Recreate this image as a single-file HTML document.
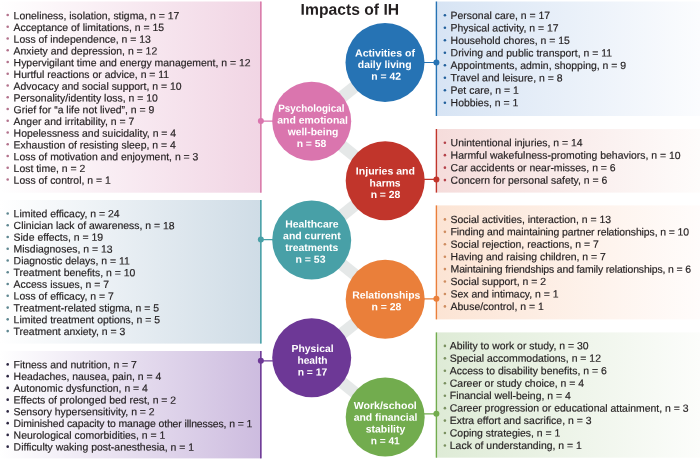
<!DOCTYPE html><html><head><meta charset="utf-8"><style>html,body{margin:0;padding:0;background:#fff}svg{display:block;transform:translateZ(0);will-change:transform}text{font-family:"Liberation Sans",sans-serif;text-rendering:geometricPrecision}</style></head><body>
<svg width="700" height="461" viewBox="0 0 700 461">
<defs>
<linearGradient id="g_pink" x1="0" y1="0" x2="1" y2="0"><stop offset="0" stop-color="#ffffff"/><stop offset="1" stop-color="#f1d5e4"/></linearGradient>
<linearGradient id="g_teal" x1="0" y1="0" x2="1" y2="0"><stop offset="0" stop-color="#ffffff"/><stop offset="1" stop-color="#cfdce6"/></linearGradient>
<linearGradient id="g_purple" x1="0" y1="0" x2="1" y2="0"><stop offset="0" stop-color="#ffffff"/><stop offset="1" stop-color="#cdbcdf"/></linearGradient>
<linearGradient id="g_blue" x1="0" y1="0" x2="1" y2="0"><stop offset="0" stop-color="#d7e4f4"/><stop offset="1" stop-color="#fbfcfe"/></linearGradient>
<linearGradient id="g_red" x1="0" y1="0" x2="1" y2="0"><stop offset="0" stop-color="#f5dcdb"/><stop offset="1" stop-color="#fefcfb"/></linearGradient>
<linearGradient id="g_orange" x1="0" y1="0" x2="1" y2="0"><stop offset="0" stop-color="#fce4d4"/><stop offset="1" stop-color="#fffcfb"/></linearGradient>
<linearGradient id="g_green" x1="0" y1="0" x2="1" y2="0"><stop offset="0" stop-color="#deebd6"/><stop offset="1" stop-color="#fcfdfb"/></linearGradient>
</defs>
<rect width="700" height="461" fill="#fff"/>
<rect x="0" y="1.5" width="260.8" height="191.20" fill="url(#g_pink)"/>
<rect x="260.05" y="1.5" width="1.6" height="191.20" fill="#d97aa9"/>
<circle cx="7.7" cy="14.95" r="1.3" fill="#b3728c"/>
<text transform="rotate(0.03 13.6 19.15)" x="13.6" y="19.15" font-size="10.45" fill="#231f20" stroke="#231f20" stroke-width="0.18">Loneliness, isolation, stigma, n = 17</text>
<circle cx="7.7" cy="26.70" r="1.3" fill="#b3728c"/>
<text transform="rotate(0.03 13.6 30.90)" x="13.6" y="30.90" font-size="10.45" fill="#231f20" stroke="#231f20" stroke-width="0.18">Acceptance of limitations, n = 15</text>
<circle cx="7.7" cy="38.45" r="1.3" fill="#b3728c"/>
<text transform="rotate(0.03 13.6 42.65)" x="13.6" y="42.65" font-size="10.45" fill="#231f20" stroke="#231f20" stroke-width="0.18">Loss of independence, n = 13</text>
<circle cx="7.7" cy="50.20" r="1.3" fill="#b3728c"/>
<text transform="rotate(0.03 13.6 54.40)" x="13.6" y="54.40" font-size="10.45" fill="#231f20" stroke="#231f20" stroke-width="0.18">Anxiety and depression, n = 12</text>
<circle cx="7.7" cy="61.95" r="1.3" fill="#b3728c"/>
<text transform="rotate(0.03 13.6 66.15)" x="13.6" y="66.15" font-size="10.45" fill="#231f20" stroke="#231f20" stroke-width="0.18">Hypervigilant time and energy management, n = 12</text>
<circle cx="7.7" cy="73.70" r="1.3" fill="#b3728c"/>
<text transform="rotate(0.03 13.6 77.90)" x="13.6" y="77.90" font-size="10.45" fill="#231f20" stroke="#231f20" stroke-width="0.18">Hurtful reactions or advice, n = 11</text>
<circle cx="7.7" cy="85.45" r="1.3" fill="#b3728c"/>
<text transform="rotate(0.03 13.6 89.65)" x="13.6" y="89.65" font-size="10.45" fill="#231f20" stroke="#231f20" stroke-width="0.18">Advocacy and social support, n = 10</text>
<circle cx="7.7" cy="97.20" r="1.3" fill="#b3728c"/>
<text transform="rotate(0.03 13.6 101.40)" x="13.6" y="101.40" font-size="10.45" fill="#231f20" stroke="#231f20" stroke-width="0.18">Personality/identity loss, n = 10</text>
<circle cx="7.7" cy="108.95" r="1.3" fill="#b3728c"/>
<text transform="rotate(0.03 13.6 113.15)" x="13.6" y="113.15" font-size="10.45" fill="#231f20" stroke="#231f20" stroke-width="0.18">Grief for “a life not lived”, n = 9</text>
<circle cx="7.7" cy="120.70" r="1.3" fill="#b3728c"/>
<text transform="rotate(0.03 13.6 124.90)" x="13.6" y="124.90" font-size="10.45" fill="#231f20" stroke="#231f20" stroke-width="0.18">Anger and irritability, n = 7</text>
<circle cx="7.7" cy="132.45" r="1.3" fill="#b3728c"/>
<text transform="rotate(0.03 13.6 136.65)" x="13.6" y="136.65" font-size="10.45" fill="#231f20" stroke="#231f20" stroke-width="0.18">Hopelessness and suicidality, n = 4</text>
<circle cx="7.7" cy="144.20" r="1.3" fill="#b3728c"/>
<text transform="rotate(0.03 13.6 148.40)" x="13.6" y="148.40" font-size="10.45" fill="#231f20" stroke="#231f20" stroke-width="0.18">Exhaustion of resisting sleep, n = 4</text>
<circle cx="7.7" cy="155.95" r="1.3" fill="#b3728c"/>
<text transform="rotate(0.03 13.6 160.15)" x="13.6" y="160.15" font-size="10.45" fill="#231f20" stroke="#231f20" stroke-width="0.18">Loss of motivation and enjoyment, n = 3</text>
<circle cx="7.7" cy="167.70" r="1.3" fill="#b3728c"/>
<text transform="rotate(0.03 13.6 171.90)" x="13.6" y="171.90" font-size="10.45" fill="#231f20" stroke="#231f20" stroke-width="0.18">Lost time, n = 2</text>
<circle cx="7.7" cy="179.45" r="1.3" fill="#b3728c"/>
<text transform="rotate(0.03 13.6 183.65)" x="13.6" y="183.65" font-size="10.45" fill="#231f20" stroke="#231f20" stroke-width="0.18">Loss of control, n = 1</text>
<rect x="0" y="200" width="260.8" height="143.60" fill="url(#g_teal)"/>
<rect x="260.05" y="200" width="1.6" height="143.60" fill="#48a0a7"/>
<circle cx="7.7" cy="213.50" r="1.3" fill="#5f8791"/>
<text transform="rotate(0.03 13.6 217.30)" x="13.6" y="217.30" font-size="10.45" fill="#231f20" stroke="#231f20" stroke-width="0.18">Limited efficacy, n = 24</text>
<circle cx="7.7" cy="225.26" r="1.3" fill="#5f8791"/>
<text transform="rotate(0.03 13.6 229.06)" x="13.6" y="229.06" font-size="10.45" fill="#231f20" stroke="#231f20" stroke-width="0.18">Clinician lack of awareness, n = 18</text>
<circle cx="7.7" cy="237.02" r="1.3" fill="#5f8791"/>
<text transform="rotate(0.03 13.6 240.82)" x="13.6" y="240.82" font-size="10.45" fill="#231f20" stroke="#231f20" stroke-width="0.18">Side effects, n = 19</text>
<circle cx="7.7" cy="248.78" r="1.3" fill="#5f8791"/>
<text transform="rotate(0.03 13.6 252.58)" x="13.6" y="252.58" font-size="10.45" fill="#231f20" stroke="#231f20" stroke-width="0.18">Misdiagnoses, n = 13</text>
<circle cx="7.7" cy="260.54" r="1.3" fill="#5f8791"/>
<text transform="rotate(0.03 13.6 264.34)" x="13.6" y="264.34" font-size="10.45" fill="#231f20" stroke="#231f20" stroke-width="0.18">Diagnostic delays, n = 11</text>
<circle cx="7.7" cy="272.30" r="1.3" fill="#5f8791"/>
<text transform="rotate(0.03 13.6 276.10)" x="13.6" y="276.10" font-size="10.45" fill="#231f20" stroke="#231f20" stroke-width="0.18">Treatment benefits, n = 10</text>
<circle cx="7.7" cy="284.06" r="1.3" fill="#5f8791"/>
<text transform="rotate(0.03 13.6 287.86)" x="13.6" y="287.86" font-size="10.45" fill="#231f20" stroke="#231f20" stroke-width="0.18">Access issues, n = 7</text>
<circle cx="7.7" cy="295.82" r="1.3" fill="#5f8791"/>
<text transform="rotate(0.03 13.6 299.62)" x="13.6" y="299.62" font-size="10.45" fill="#231f20" stroke="#231f20" stroke-width="0.18">Loss of efficacy, n = 7</text>
<circle cx="7.7" cy="307.58" r="1.3" fill="#5f8791"/>
<text transform="rotate(0.03 13.6 311.38)" x="13.6" y="311.38" font-size="10.45" fill="#231f20" stroke="#231f20" stroke-width="0.18">Treatment-related stigma, n = 5</text>
<circle cx="7.7" cy="319.34" r="1.3" fill="#5f8791"/>
<text transform="rotate(0.03 13.6 323.14)" x="13.6" y="323.14" font-size="10.45" fill="#231f20" stroke="#231f20" stroke-width="0.18">Limited treatment options, n = 5</text>
<circle cx="7.7" cy="331.10" r="1.3" fill="#5f8791"/>
<text transform="rotate(0.03 13.6 334.90)" x="13.6" y="334.90" font-size="10.45" fill="#231f20" stroke="#231f20" stroke-width="0.18">Treatment anxiety, n = 3</text>
<rect x="0" y="351" width="260.8" height="107.40" fill="url(#g_purple)"/>
<rect x="260.05" y="351" width="1.6" height="107.40" fill="#6d3896"/>
<circle cx="7.7" cy="364.40" r="1.3" fill="#2b2540"/>
<text transform="rotate(0.03 13.6 368.30)" x="13.6" y="368.30" font-size="10.45" fill="#231f20" stroke="#231f20" stroke-width="0.18">Fitness and nutrition, n = 7</text>
<circle cx="7.7" cy="376.15" r="1.3" fill="#2b2540"/>
<text transform="rotate(0.03 13.6 380.05)" x="13.6" y="380.05" font-size="10.45" fill="#231f20" stroke="#231f20" stroke-width="0.18">Headaches, nausea, pain, n = 4</text>
<circle cx="7.7" cy="387.90" r="1.3" fill="#2b2540"/>
<text transform="rotate(0.03 13.6 391.80)" x="13.6" y="391.80" font-size="10.45" fill="#231f20" stroke="#231f20" stroke-width="0.18">Autonomic dysfunction, n = 4</text>
<circle cx="7.7" cy="399.65" r="1.3" fill="#2b2540"/>
<text transform="rotate(0.03 13.6 403.55)" x="13.6" y="403.55" font-size="10.45" fill="#231f20" stroke="#231f20" stroke-width="0.18">Effects of prolonged bed rest, n = 2</text>
<circle cx="7.7" cy="411.40" r="1.3" fill="#2b2540"/>
<text transform="rotate(0.03 13.6 415.30)" x="13.6" y="415.30" font-size="10.45" fill="#231f20" stroke="#231f20" stroke-width="0.18">Sensory hypersensitivity, n = 2</text>
<circle cx="7.7" cy="423.15" r="1.3" fill="#2b2540"/>
<text transform="rotate(0.03 13.6 427.05)" x="13.6" y="427.05" font-size="10.45" fill="#231f20" stroke="#231f20" stroke-width="0.18" textLength="238.7">Diminished capacity to manage other illnesses, n = 1</text>
<circle cx="7.7" cy="434.90" r="1.3" fill="#2b2540"/>
<text transform="rotate(0.03 13.6 438.80)" x="13.6" y="438.80" font-size="10.45" fill="#231f20" stroke="#231f20" stroke-width="0.18">Neurological comorbidities, n = 1</text>
<circle cx="7.7" cy="446.65" r="1.3" fill="#2b2540"/>
<text transform="rotate(0.03 13.6 450.55)" x="13.6" y="450.55" font-size="10.45" fill="#231f20" stroke="#231f20" stroke-width="0.18">Difficulty waking post-anesthesia, n = 1</text>
<rect x="436.4" y="1.5" width="263.6" height="114.50" fill="url(#g_blue)"/>
<rect x="435.7" y="1.5" width="1.4" height="114.50" fill="#2673b4"/>
<circle cx="444.9" cy="15.25" r="1.3" fill="#22609c"/>
<text transform="rotate(0.03 450.6 18.90)" x="450.6" y="18.90" font-size="10.45" fill="#231f20" stroke="#231f20" stroke-width="0.18">Personal care, n = 17</text>
<circle cx="444.9" cy="27.74" r="1.3" fill="#22609c"/>
<text transform="rotate(0.03 450.6 31.39)" x="450.6" y="31.39" font-size="10.45" fill="#231f20" stroke="#231f20" stroke-width="0.18">Physical activity, n = 17</text>
<circle cx="444.9" cy="40.23" r="1.3" fill="#22609c"/>
<text transform="rotate(0.03 450.6 43.88)" x="450.6" y="43.88" font-size="10.45" fill="#231f20" stroke="#231f20" stroke-width="0.18">Household chores, n = 15</text>
<circle cx="444.9" cy="52.72" r="1.3" fill="#22609c"/>
<text transform="rotate(0.03 450.6 56.37)" x="450.6" y="56.37" font-size="10.45" fill="#231f20" stroke="#231f20" stroke-width="0.18">Driving and public transport, n = 11</text>
<circle cx="444.9" cy="65.21" r="1.3" fill="#22609c"/>
<text transform="rotate(0.03 450.6 68.86)" x="450.6" y="68.86" font-size="10.45" fill="#231f20" stroke="#231f20" stroke-width="0.18">Appointments, admin, shopping, n = 9</text>
<circle cx="444.9" cy="77.70" r="1.3" fill="#22609c"/>
<text transform="rotate(0.03 450.6 81.35)" x="450.6" y="81.35" font-size="10.45" fill="#231f20" stroke="#231f20" stroke-width="0.18">Travel and leisure, n = 8</text>
<circle cx="444.9" cy="90.19" r="1.3" fill="#22609c"/>
<text transform="rotate(0.03 450.6 93.84)" x="450.6" y="93.84" font-size="10.45" fill="#231f20" stroke="#231f20" stroke-width="0.18">Pet care, n = 1</text>
<circle cx="444.9" cy="102.68" r="1.3" fill="#22609c"/>
<text transform="rotate(0.03 450.6 106.33)" x="450.6" y="106.33" font-size="10.45" fill="#231f20" stroke="#231f20" stroke-width="0.18">Hobbies, n = 1</text>
<rect x="436.4" y="129" width="263.6" height="63.60" fill="url(#g_red)"/>
<rect x="435.7" y="129" width="1.4" height="63.60" fill="#c1352b"/>
<circle cx="444.9" cy="142.70" r="1.3" fill="#b5424a"/>
<text transform="rotate(0.03 450.6 146.30)" x="450.6" y="146.30" font-size="10.45" fill="#231f20" stroke="#231f20" stroke-width="0.18">Unintentional injuries, n = 14</text>
<circle cx="444.9" cy="155.17" r="1.3" fill="#b5424a"/>
<text transform="rotate(0.03 450.6 158.77)" x="450.6" y="158.77" font-size="10.45" fill="#231f20" stroke="#231f20" stroke-width="0.18">Harmful wakefulness-promoting behaviors, n = 10</text>
<circle cx="444.9" cy="167.64" r="1.3" fill="#b5424a"/>
<text transform="rotate(0.03 450.6 171.24)" x="450.6" y="171.24" font-size="10.45" fill="#231f20" stroke="#231f20" stroke-width="0.18">Car accidents or near-misses, n = 6</text>
<circle cx="444.9" cy="180.11" r="1.3" fill="#b5424a"/>
<text transform="rotate(0.03 450.6 183.71)" x="450.6" y="183.71" font-size="10.45" fill="#231f20" stroke="#231f20" stroke-width="0.18">Concern for personal safety, n = 6</text>
<rect x="436.4" y="205.4" width="263.6" height="114.00" fill="url(#g_orange)"/>
<rect x="435.7" y="205.4" width="1.4" height="114.00" fill="#ea7f3a"/>
<circle cx="444.9" cy="219.40" r="1.3" fill="#cf8d60"/>
<text transform="rotate(0.03 450.6 222.90)" x="450.6" y="222.90" font-size="10.45" fill="#231f20" stroke="#231f20" stroke-width="0.18">Social activities, interaction, n = 13</text>
<circle cx="444.9" cy="231.83" r="1.3" fill="#cf8d60"/>
<text transform="rotate(0.03 450.6 235.33)" x="450.6" y="235.33" font-size="10.45" fill="#231f20" stroke="#231f20" stroke-width="0.18" textLength="238.5">Finding and maintaining partner relationships, n = 10</text>
<circle cx="444.9" cy="244.26" r="1.3" fill="#cf8d60"/>
<text transform="rotate(0.03 450.6 247.76)" x="450.6" y="247.76" font-size="10.45" fill="#231f20" stroke="#231f20" stroke-width="0.18">Social rejection, reactions, n = 7</text>
<circle cx="444.9" cy="256.69" r="1.3" fill="#cf8d60"/>
<text transform="rotate(0.03 450.6 260.19)" x="450.6" y="260.19" font-size="10.45" fill="#231f20" stroke="#231f20" stroke-width="0.18">Having and raising children, n = 7</text>
<circle cx="444.9" cy="269.12" r="1.3" fill="#cf8d60"/>
<text transform="rotate(0.03 450.6 272.62)" x="450.6" y="272.62" font-size="10.45" fill="#231f20" stroke="#231f20" stroke-width="0.18" textLength="240.4">Maintaining friendships and family relationships, n = 6</text>
<circle cx="444.9" cy="281.55" r="1.3" fill="#cf8d60"/>
<text transform="rotate(0.03 450.6 285.05)" x="450.6" y="285.05" font-size="10.45" fill="#231f20" stroke="#231f20" stroke-width="0.18">Social support, n = 2</text>
<circle cx="444.9" cy="293.98" r="1.3" fill="#cf8d60"/>
<text transform="rotate(0.03 450.6 297.48)" x="450.6" y="297.48" font-size="10.45" fill="#231f20" stroke="#231f20" stroke-width="0.18">Sex and intimacy, n = 1</text>
<circle cx="444.9" cy="306.41" r="1.3" fill="#cf8d60"/>
<text transform="rotate(0.03 450.6 309.91)" x="450.6" y="309.91" font-size="10.45" fill="#231f20" stroke="#231f20" stroke-width="0.18">Abuse/control, n = 1</text>
<rect x="436.4" y="332.4" width="263.6" height="125.30" fill="url(#g_green)"/>
<rect x="435.7" y="332.4" width="1.4" height="125.30" fill="#72ac4e"/>
<circle cx="444.9" cy="345.90" r="1.3" fill="#7a9060"/>
<text transform="rotate(0.03 449.8 349.30)" x="449.8" y="349.30" font-size="10.45" fill="#231f20" stroke="#231f20" stroke-width="0.18">Ability to work or study, n = 30</text>
<circle cx="444.9" cy="358.35" r="1.3" fill="#7a9060"/>
<text transform="rotate(0.03 449.8 361.75)" x="449.8" y="361.75" font-size="10.45" fill="#231f20" stroke="#231f20" stroke-width="0.18">Special accommodations, n = 12</text>
<circle cx="444.9" cy="370.80" r="1.3" fill="#7a9060"/>
<text transform="rotate(0.03 449.8 374.20)" x="449.8" y="374.20" font-size="10.45" fill="#231f20" stroke="#231f20" stroke-width="0.18">Access to disability benefits, n = 6</text>
<circle cx="444.9" cy="383.25" r="1.3" fill="#7a9060"/>
<text transform="rotate(0.03 449.8 386.65)" x="449.8" y="386.65" font-size="10.45" fill="#231f20" stroke="#231f20" stroke-width="0.18">Career or study choice, n = 4</text>
<circle cx="444.9" cy="395.70" r="1.3" fill="#7a9060"/>
<text transform="rotate(0.03 449.8 399.10)" x="449.8" y="399.10" font-size="10.45" fill="#231f20" stroke="#231f20" stroke-width="0.18">Financial well-being, n = 4</text>
<circle cx="444.9" cy="408.15" r="1.3" fill="#7a9060"/>
<text transform="rotate(0.03 449.8 411.55)" x="449.8" y="411.55" font-size="10.45" fill="#231f20" stroke="#231f20" stroke-width="0.18">Career progression or educational attainment, n = 3</text>
<circle cx="444.9" cy="420.60" r="1.3" fill="#7a9060"/>
<text transform="rotate(0.03 449.8 424.00)" x="449.8" y="424.00" font-size="10.45" fill="#231f20" stroke="#231f20" stroke-width="0.18">Extra effort and sacrifice, n = 3</text>
<circle cx="444.9" cy="433.05" r="1.3" fill="#7a9060"/>
<text transform="rotate(0.03 449.8 436.45)" x="449.8" y="436.45" font-size="10.45" fill="#231f20" stroke="#231f20" stroke-width="0.18">Coping strategies, n = 1</text>
<circle cx="444.9" cy="445.50" r="1.3" fill="#7a9060"/>
<text transform="rotate(0.03 449.8 448.90)" x="449.8" y="448.90" font-size="10.45" fill="#231f20" stroke="#231f20" stroke-width="0.18">Lack of understanding, n = 1</text>
<line x1="385.0" y1="62.5" x2="311.7" y2="121.3" stroke="#e5e8e8" stroke-width="12"/>
<line x1="311.7" y1="121.3" x2="385.2" y2="180.7" stroke="#e5e8e8" stroke-width="12"/>
<line x1="385.2" y1="180.7" x2="311.7" y2="240.0" stroke="#e5e8e8" stroke-width="12"/>
<line x1="311.7" y1="240.0" x2="385.2" y2="299.2" stroke="#e5e8e8" stroke-width="12"/>
<line x1="385.2" y1="299.2" x2="311.7" y2="357.8" stroke="#e5e8e8" stroke-width="12"/>
<line x1="311.7" y1="357.8" x2="385.2" y2="417.1" stroke="#e5e8e8" stroke-width="12"/>
<line x1="385.0" y1="62.5" x2="436.4" y2="62.5" stroke="#2673b4" stroke-width="1.2"/>
<circle cx="436.4" cy="62.5" r="3.0" fill="#2673b4"/>
<circle cx="385.0" cy="62.5" r="39.5" fill="#2673b4"/>
<text transform="rotate(0.03 355.05 56.4)" x="355.05" y="56.4" font-size="10.3" font-weight="bold" fill="#ffffff" textLength="59.9" lengthAdjust="spacingAndGlyphs">Activities of</text>
<text transform="rotate(0.03 357.85 68.1)" x="357.85" y="68.1" font-size="10.3" font-weight="bold" fill="#ffffff" textLength="53.7" lengthAdjust="spacingAndGlyphs">daily living</text>
<text transform="rotate(0.03 371.25 79.8)" x="371.25" y="79.8" font-size="10.3" font-weight="bold" fill="#ffffff" textLength="29.7" lengthAdjust="spacingAndGlyphs">n = 42</text>
<line x1="311.7" y1="121.1" x2="260.85" y2="121.1" stroke="#da75ae" stroke-width="1.2"/>
<circle cx="260.85" cy="121.1" r="3.0" fill="#da75ae"/>
<circle cx="311.7" cy="121.3" r="39.5" fill="#da75ae"/>
<text transform="rotate(0.03 278.20 111.7)" x="278.20" y="111.7" font-size="10.3" font-weight="bold" fill="#ffffff" textLength="66.2" lengthAdjust="spacingAndGlyphs">Psychological</text>
<text transform="rotate(0.03 277.20 123.6)" x="277.20" y="123.6" font-size="10.3" font-weight="bold" fill="#ffffff" textLength="70.8" lengthAdjust="spacingAndGlyphs">and emotional</text>
<text transform="rotate(0.03 287.70 135.3)" x="287.70" y="135.3" font-size="10.3" font-weight="bold" fill="#ffffff" textLength="50.6" lengthAdjust="spacingAndGlyphs">well-being</text>
<text transform="rotate(0.03 296.65 146.9)" x="296.65" y="146.9" font-size="10.3" font-weight="bold" fill="#ffffff" textLength="29.7" lengthAdjust="spacingAndGlyphs">n = 58</text>
<line x1="385.2" y1="179.4" x2="436.4" y2="179.4" stroke="#c1352b" stroke-width="1.2"/>
<circle cx="436.4" cy="179.4" r="3.0" fill="#c1352b"/>
<circle cx="385.2" cy="180.7" r="39.5" fill="#c1352b"/>
<text transform="rotate(0.03 355.85 174.5)" x="355.85" y="174.5" font-size="10.3" font-weight="bold" fill="#ffffff" textLength="59.1" lengthAdjust="spacingAndGlyphs">Injuries and</text>
<text transform="rotate(0.03 369.60 186.4)" x="369.60" y="186.4" font-size="10.3" font-weight="bold" fill="#ffffff" textLength="31.0" lengthAdjust="spacingAndGlyphs">harms</text>
<text transform="rotate(0.03 370.65 198.0)" x="370.65" y="198.0" font-size="10.3" font-weight="bold" fill="#ffffff" textLength="29.7" lengthAdjust="spacingAndGlyphs">n = 28</text>
<line x1="311.7" y1="239.6" x2="260.85" y2="239.6" stroke="#48a0a7" stroke-width="1.2"/>
<circle cx="260.85" cy="239.6" r="3.0" fill="#48a0a7"/>
<circle cx="311.7" cy="240.0" r="39.5" fill="#48a0a7"/>
<text transform="rotate(0.03 285.25 227.5)" x="285.25" y="227.5" font-size="10.3" font-weight="bold" fill="#ffffff" textLength="53.3" lengthAdjust="spacingAndGlyphs">Healthcare</text>
<text transform="rotate(0.03 283.05 239.3)" x="283.05" y="239.3" font-size="10.3" font-weight="bold" fill="#ffffff" textLength="57.7" lengthAdjust="spacingAndGlyphs">and current</text>
<text transform="rotate(0.03 285.25 251.0)" x="285.25" y="251.0" font-size="10.3" font-weight="bold" fill="#ffffff" textLength="53.1" lengthAdjust="spacingAndGlyphs">treatments</text>
<text transform="rotate(0.03 295.45 262.8)" x="295.45" y="262.8" font-size="10.3" font-weight="bold" fill="#ffffff" textLength="30.1" lengthAdjust="spacingAndGlyphs">n = 53</text>
<line x1="385.2" y1="298.8" x2="436.4" y2="298.8" stroke="#ea7f3a" stroke-width="1.2"/>
<circle cx="436.4" cy="298.8" r="3.0" fill="#ea7f3a"/>
<circle cx="385.2" cy="299.2" r="39.5" fill="#ea7f3a"/>
<text transform="rotate(0.03 352.20 298.6)" x="352.20" y="298.6" font-size="10.3" font-weight="bold" fill="#ffffff" textLength="68.2" lengthAdjust="spacingAndGlyphs">Relationships</text>
<text transform="rotate(0.03 371.45 310.3)" x="371.45" y="310.3" font-size="10.3" font-weight="bold" fill="#ffffff" textLength="29.9" lengthAdjust="spacingAndGlyphs">n = 28</text>
<line x1="311.7" y1="360.8" x2="260.85" y2="360.8" stroke="#6d3896" stroke-width="1.2"/>
<circle cx="260.85" cy="360.8" r="3.0" fill="#6d3896"/>
<circle cx="311.7" cy="357.8" r="39.5" fill="#6d3896"/>
<text transform="rotate(0.03 291.55 351.9)" x="291.55" y="351.9" font-size="10.3" font-weight="bold" fill="#ffffff" textLength="42.1" lengthAdjust="spacingAndGlyphs">Physical</text>
<text transform="rotate(0.03 297.40 363.7)" x="297.40" y="363.7" font-size="10.3" font-weight="bold" fill="#ffffff" textLength="30.2" lengthAdjust="spacingAndGlyphs">health</text>
<text transform="rotate(0.03 297.65 375.5)" x="297.65" y="375.5" font-size="10.3" font-weight="bold" fill="#ffffff" textLength="29.5" lengthAdjust="spacingAndGlyphs">n = 17</text>
<line x1="385.2" y1="413.8" x2="436.4" y2="413.8" stroke="#72ac4e" stroke-width="1.2"/>
<circle cx="436.4" cy="413.8" r="3.0" fill="#72ac4e"/>
<circle cx="385.2" cy="417.1" r="39.5" fill="#72ac4e"/>
<text transform="rotate(0.03 353.85 408.9)" x="353.85" y="408.9" font-size="10.3" font-weight="bold" fill="#ffffff" textLength="62.9" lengthAdjust="spacingAndGlyphs">Work/school</text>
<text transform="rotate(0.03 353.65 420.8)" x="353.65" y="420.8" font-size="10.3" font-weight="bold" fill="#ffffff" textLength="63.7" lengthAdjust="spacingAndGlyphs">and financial</text>
<text transform="rotate(0.03 365.75 432.5)" x="365.75" y="432.5" font-size="10.3" font-weight="bold" fill="#ffffff" textLength="39.5" lengthAdjust="spacingAndGlyphs">stability</text>
<text transform="rotate(0.03 370.65 444.2)" x="370.65" y="444.2" font-size="10.3" font-weight="bold" fill="#ffffff" textLength="29.1" lengthAdjust="spacingAndGlyphs">n = 41</text>
<text transform="rotate(0.03 300.6 14.8)" x="300.6" y="14.8" font-size="15.7" font-weight="bold" fill="#231f20">Impacts of IH</text>
</svg></body></html>
